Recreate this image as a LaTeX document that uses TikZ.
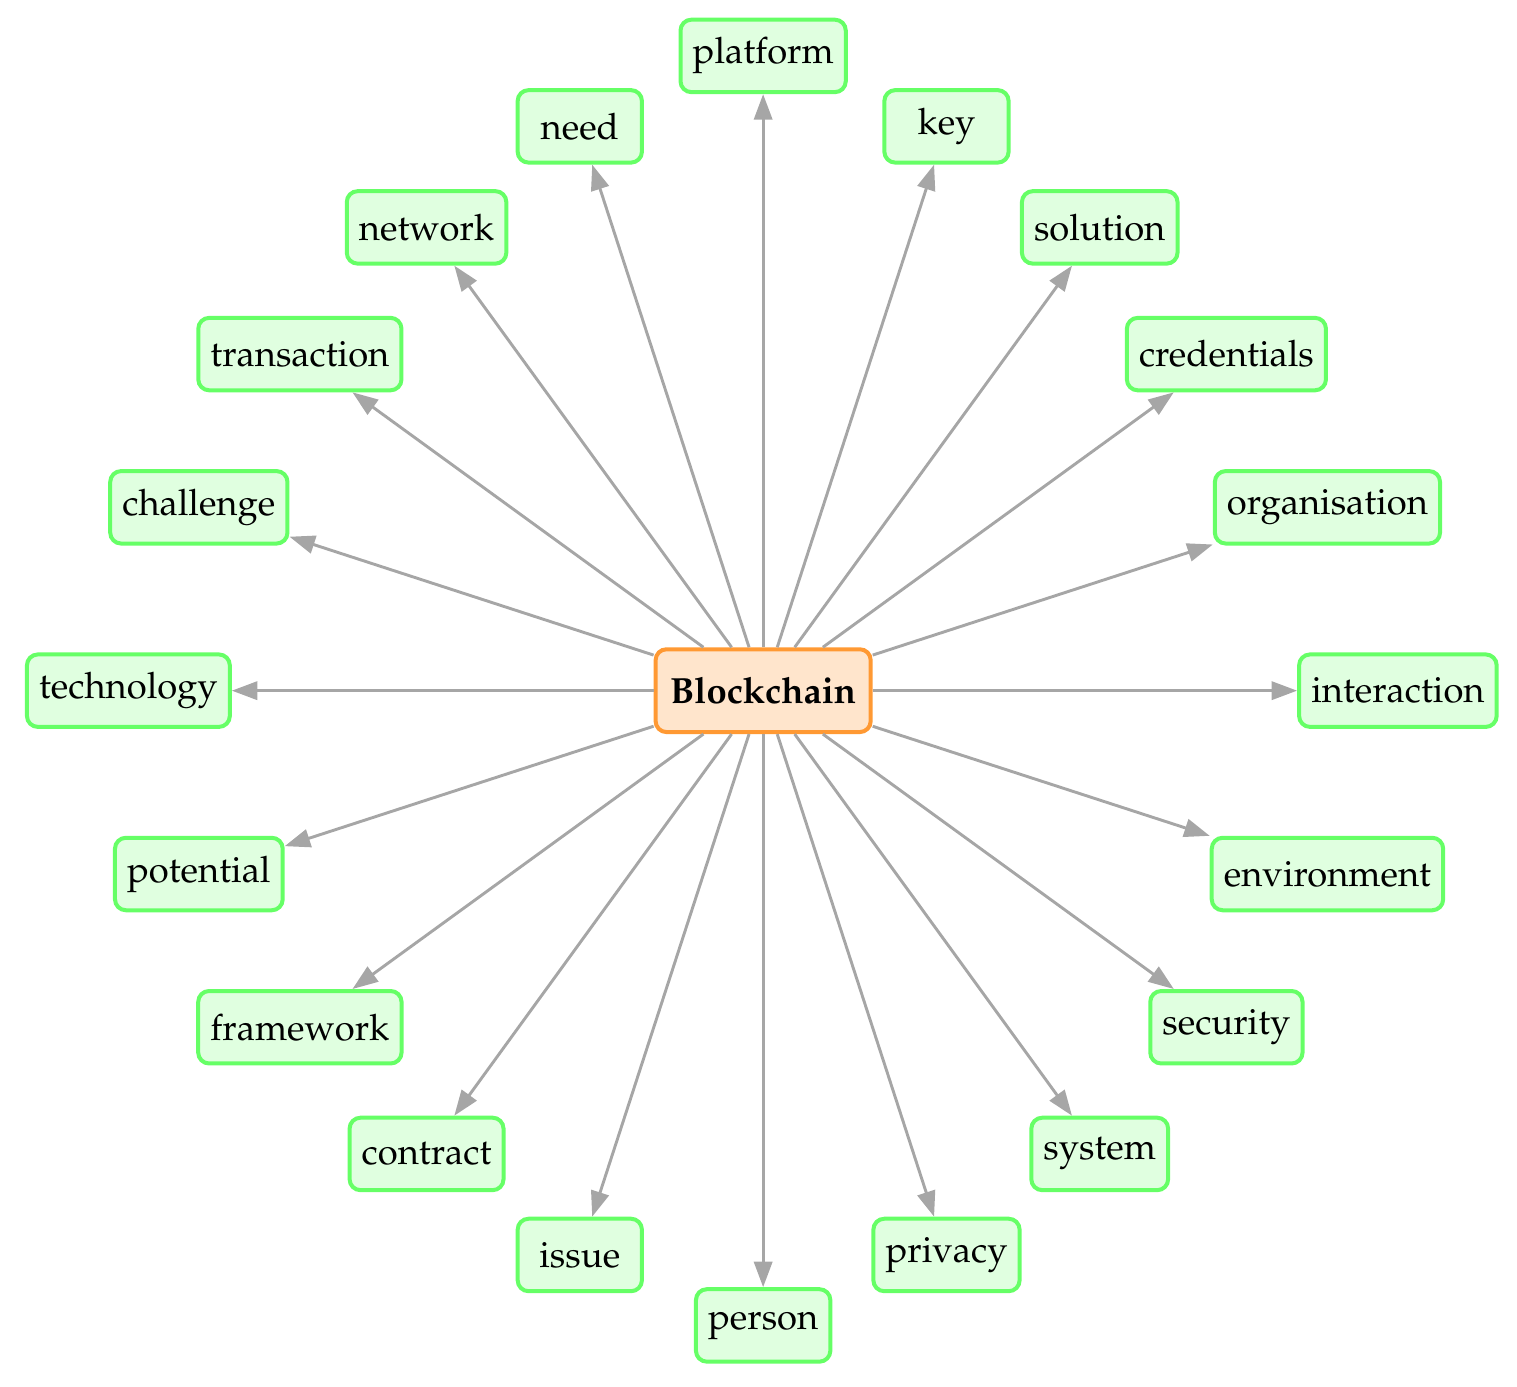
\documentclass[tikz,border=0pt]{standalone}
\usepackage[T1]{fontenc}
\usepackage{mathpazo}
\usepackage{tikz}
\usetikzlibrary{arrows.meta}
\tikzset{
  hub/.style     = {draw=orange!80, fill=orange!20, line width=1.1pt,
                    rounded corners=3pt, minimum height=8mm, inner sep=4pt,
                    font=\bfseries},
  term/.style    = {draw=green!60, fill=green!12, line width=1.1pt,
                    rounded corners=3pt, minimum width=12mm,
                    minimum height=7mm},
  link/.style    = {draw=black!35, line width=0.8pt,
                    -{Triangle[length=7pt,width=5pt]}},
}

\begin{document}
\begin{tikzpicture}
  \useasboundingbox (-7.37,-6.72) rectangle (7.28,6.67);
  % hub
  \node[hub] (bc) at (0,0) {Blockchain};
  % terms, anticlockwise from the right
  \node[term] (inter) at (0:6.13)   {interaction};
  \node[term] (org)   at (18:5.73)  {organisation};
  \node[term] (cred)  at (36:5.53)  {credentials};
  \node[term] (sol)   at (54:5.53)  {solution};
  \node[term] (key)   at (72:5.73)  {key};
  \node[term] (plat)  at (90:6.13)  {platform};
  \node[term] (need)  at (108:5.73) {need};
  \node[term] (net)   at (126:5.53) {network};
  \node[term] (trans) at (144:5.53) {transaction};
  \node[term] (chal)  at (162:5.73) {challenge};
  \node[term] (tech)  at (180:6.13) {technology};
  \node[term] (pot)   at (198:5.73) {potential};
  \node[term] (frame) at (216:5.53) {framework};
  \node[term] (contr) at (234:5.53) {contract};
  \node[term] (issue) at (252:5.73) {issue};
  \node[term] (pers)  at (270:6.13) {person};
  \node[term] (priv)  at (288:5.73) {privacy};
  \node[term] (sys)   at (306:5.53) {system};
  \node[term] (sec)   at (324:5.53) {security};
  \node[term] (env)   at (342:5.73) {environment};
  % links
  \draw[link] (bc) -- (inter);
  \draw[link] (bc) -- (org);
  \draw[link] (bc) -- (cred);
  \draw[link] (bc) -- (sol);
  \draw[link] (bc) -- (key);
  \draw[link] (bc) -- (plat);
  \draw[link] (bc) -- (need);
  \draw[link] (bc) -- (net);
  \draw[link] (bc) -- (trans);
  \draw[link] (bc) -- (chal);
  \draw[link] (bc) -- (tech);
  \draw[link] (bc) -- (pot);
  \draw[link] (bc) -- (frame);
  \draw[link] (bc) -- (contr);
  \draw[link] (bc) -- (issue);
  \draw[link] (bc) -- (pers);
  \draw[link] (bc) -- (priv);
  \draw[link] (bc) -- (sys);
  \draw[link] (bc) -- (sec);
  \draw[link] (bc) -- (env);
\end{tikzpicture}
\end{document}
